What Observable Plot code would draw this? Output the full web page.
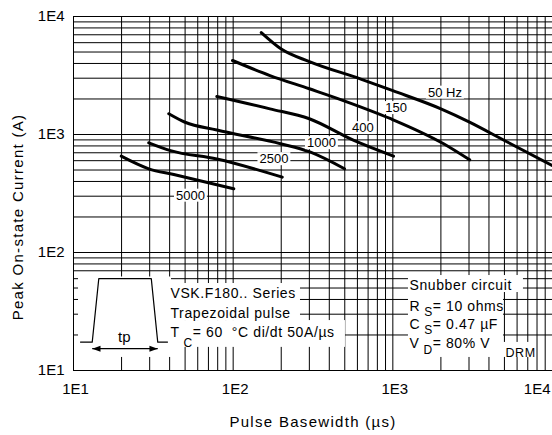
<!DOCTYPE html>
<html><head><meta charset="utf-8">
<script src="https://cdn.jsdelivr.net/npm/d3@7"></script>
<script src="https://cdn.jsdelivr.net/npm/@observablehq/plot@0.6"></script>
<style>body{margin:0;background:#fff} svg{display:block}</style>
</head><body>
<script>
// ---- data ----
const tickValues = [10, 100, 1000, 10000];
const tickLabels = ["1E1", "1E2", "1E3", "1E4"];
const gridValues = [10,20,30,40,50,60,70,80,90,100,200,300,400,500,600,700,800,900,1000,2000,3000,4000,5000,6000,7000,8000,9000,10000];

const seriesNames = ["50 Hz", "150", "400", "1000", "2500", "5000"];
const width50 = [150, 200, 300, 630, 1000, 2000, 3000, 5000, 10000];
const current50 = [7300, 5300, 4150, 2950, 2350, 1650, 1280, 890, 545];
const width150 = [99, 170, 300, 490, 970, 2080, 3030];
const current150 = [4240, 3160, 2440, 1940, 1360, 835, 610];
const width400 = [79, 170, 300, 570, 1010];
const current400 = [2100, 1650, 1360, 890, 655];
const width1000 = [39.5, 50, 79, 198, 305, 498];
const current1000 = [1500, 1270, 1090, 835, 708, 512];
const width2500 = [29.6, 40.5, 79, 203];
const current2500 = [850, 730, 620, 435];
const width5000 = [19.9, 29.6, 42.5, 101];
const current5000 = [655, 512, 458, 347];

// curve labels
const labelX = [2120, 1050, 650, 357, 180, 54];
const labelY = [2270, 1680, 1135, 847, 620, 304];

// notes (left)
const noteText = ["VSK.F180.. Series", "Trapezoidal pulse", "T| C|= 60  °C di/dt 50A/µs"];
const noteX = [40.5, 40.5, 40.5];
const noteY = [44.5, 30.7, 20.8];
// notes (right)
const snubText = ["Snubber circuit", "R| S|= 10 ohms", "C| S|= 0.47 µF", "V| D|= 80% V"];
const snubX = [1272, 1272, 1272, 1272];
const snubY = [52.0, 34.7, 24.3, 17.0];
const drmText = ["DRM"];
const drmX = [5077];
const drmY = [14.0];
const subShift = {T: 10, R: 4.5, C: 5, V: 6.5};

// white panels behind notes
const panelX1 = [10.75, 41.1, 41.1, 41.1, 1253, 1253, 4932];
const panelX2 = [41.1, 264, 264, 505, 6577, 4932, 7604];
const panelY1 = [12.9, 39.2, 26.5, 15.7, 45.8, 12.9, 12.9];
const panelY2 = [62, 54.6, 39.2, 26.5, 63.8, 45.8, 17.3];

// trapezoid pulse sketch
const trapX = [11.06, 13.1, 14.4, 30.7, 33.7, 38.8];
const trapY = [17.4, 17.4, 60, 60, 17.4, 17.4];
const arrowX = [13.1, 33.7];
const arrowY = 15.3;
const headX = [[13.1, 14.76, 14.76], [33.7, 29.9, 29.9]];
const headY = [[15.3, 16.19, 14.41], [15.3, 16.19, 14.41]];

const xTitle = "Pulse Basewidth (µs)";
const yTitle = "Peak On-state Current (A)";

// ---- build tables ----
const allW = [width50, width150, width400, width1000, width2500, width5000];
const allI = [current50, current150, current400, current1000, current2500, current5000];
const curveRows = [];
seriesNames.forEach((s, k) => allW[k].forEach((w, j) => curveRows.push({s, w, i: allI[k][j]})));
const labels = seriesNames.map((t, k) => ({t, x: labelX[k], y: labelY[k]}));
const notes = noteText.map((t, k) => ({t, x: noteX[k], y: noteY[k]}));
const snubs = snubText.map((t, k) => ({t, x: snubX[k], y: snubY[k]}));
const drm = drmText.map((t, k) => ({t, x: drmX[k], y: drmY[k]}));
const panels = panelX1.map((x1, k) => ({x1, x2: panelX2[k], y1: panelY1[k], y2: panelY2[k]}));
const trap = trapX.map((x, k) => ({x, y: trapY[k]}));
const heads = [];
headX.forEach((hx, k) => hx.forEach((x, j) => heads.push({k, x, y: headY[k][j]})));
const fmt = d => tickLabels[tickValues.indexOf(d)];

const svg = Plot.plot({
  width: 552, height: 435,
  marginLeft: 73, marginRight: 0, marginTop: 16, marginBottom: 65,
  x: {type: "log", domain: [10, 10000]},
  y: {type: "log", domain: [10, 10000]},
  style: {fontFamily: "'Liberation Sans', Arial, sans-serif", fontSize: "15px", color: "#000", background: "#fff", overflow: "visible"},
  marks: [
    Plot.ruleX(gridValues, {stroke: "#000", strokeWidth: 1}),
    Plot.ruleY(gridValues, {stroke: "#000", strokeWidth: 1}),
    Plot.rect(panels, {x1: "x1", x2: "x2", y1: "y1", y2: "y2", fill: "#fff"}),
    Plot.line(curveRows, {x: "w", y: "i", z: "s", stroke: "#000", strokeWidth: 3, curve: "monotone-x"}),
    Plot.line(trap, {x: "x", y: "y", stroke: "#000", strokeWidth: 1.2}),
    Plot.link([0], {x1: arrowX[0], x2: arrowX[1], y1: arrowY, y2: arrowY, stroke: "#000", strokeWidth: 1.2}),
    Plot.line(heads, {x: "x", y: "y", z: "k", fill: "#000", stroke: "none"}),
    Plot.text(["tp"], {x: 20.8, y: 19.05, fontSize: 15}),
    Plot.text(labels, {x: "x", y: "y", text: "t", fontSize: 13}),
    Plot.text(notes, {x: "x", y: "y", text: "t", fontSize: 14, textAnchor: "start"}),
    Plot.text(snubs, {x: "x", y: "y", text: "t", fontSize: 14, textAnchor: "start"}),
    Plot.text(drm, {x: "x", y: "y", text: "t", fontSize: 12.5, textAnchor: "start"}),
    Plot.axisY({ticks: tickValues, tickFormat: fmt, tickSize: 0, tickPadding: 9, fontSize: 15, label: null}),
    Plot.axisX({ticks: tickValues.slice(0, 3), tickFormat: fmt, tickSize: 0, tickPadding: 13, dx: 2, fontSize: 15, label: null}),
    Plot.axisX({ticks: tickValues.slice(3), tickFormat: fmt, tickSize: 0, tickPadding: 13, dx: -2, textAnchor: "end", fontSize: 15, label: null}),
    Plot.text([xTitle], {frameAnchor: "bottom", textAnchor: "middle", lineAnchor: "middle", dy: 52, fontSize: 15}),
    Plot.text([yTitle], {frameAnchor: "left", textAnchor: "middle", lineAnchor: "middle", rotate: -90, dx: -55, dy: 23.5, fontSize: 15}),
    Plot.frame({stroke: "#000", strokeWidth: 1})
  ]
});
document.body.append(svg);

// ---- post-processing: subscripts, letter spacing, label backgrounds ----
const boxSet = new Set([...noteText, ...snubText, ...drmText]);
const labelSet = new Set(seriesNames);
const svgBox = svg.getBoundingClientRect();
d3.select(svg).selectAll("text").each(function() {
  const t = this.textContent;
  if (t === xTitle || t === yTitle) this.style.letterSpacing = "1.3px";
  if (boxSet.has(t)) this.style.letterSpacing = "0.6px";
  if (t.includes("|")) {
    const parts = t.split("|");
    const sh = subShift[parts[0]] ?? 5;
    this.textContent = "";
    const s = d3.select(this);
    s.append("tspan").text(parts[0]);
    s.append("tspan").attr("dy", sh).attr("font-size", 12).text(parts[1]);
    s.append("tspan").attr("dy", -sh).text(parts[2]);
  }
});
d3.select(svg).selectAll("text").each(function() {
  const t = this.textContent;
  if (labelSet.has(t)) {
    const b = this.getBoundingClientRect();
    const g = this.parentNode;
    const r = document.createElementNS("http://www.w3.org/2000/svg", "rect");
    r.setAttribute("x", b.left - svgBox.left - 2);
    r.setAttribute("y", b.top - svgBox.top + 1);
    r.setAttribute("width", b.width + 4);
    r.setAttribute("height", b.height - 2);
    r.setAttribute("fill", "#fff");
    svg.insertBefore(r, g);
  }
});
</script></body></html>
